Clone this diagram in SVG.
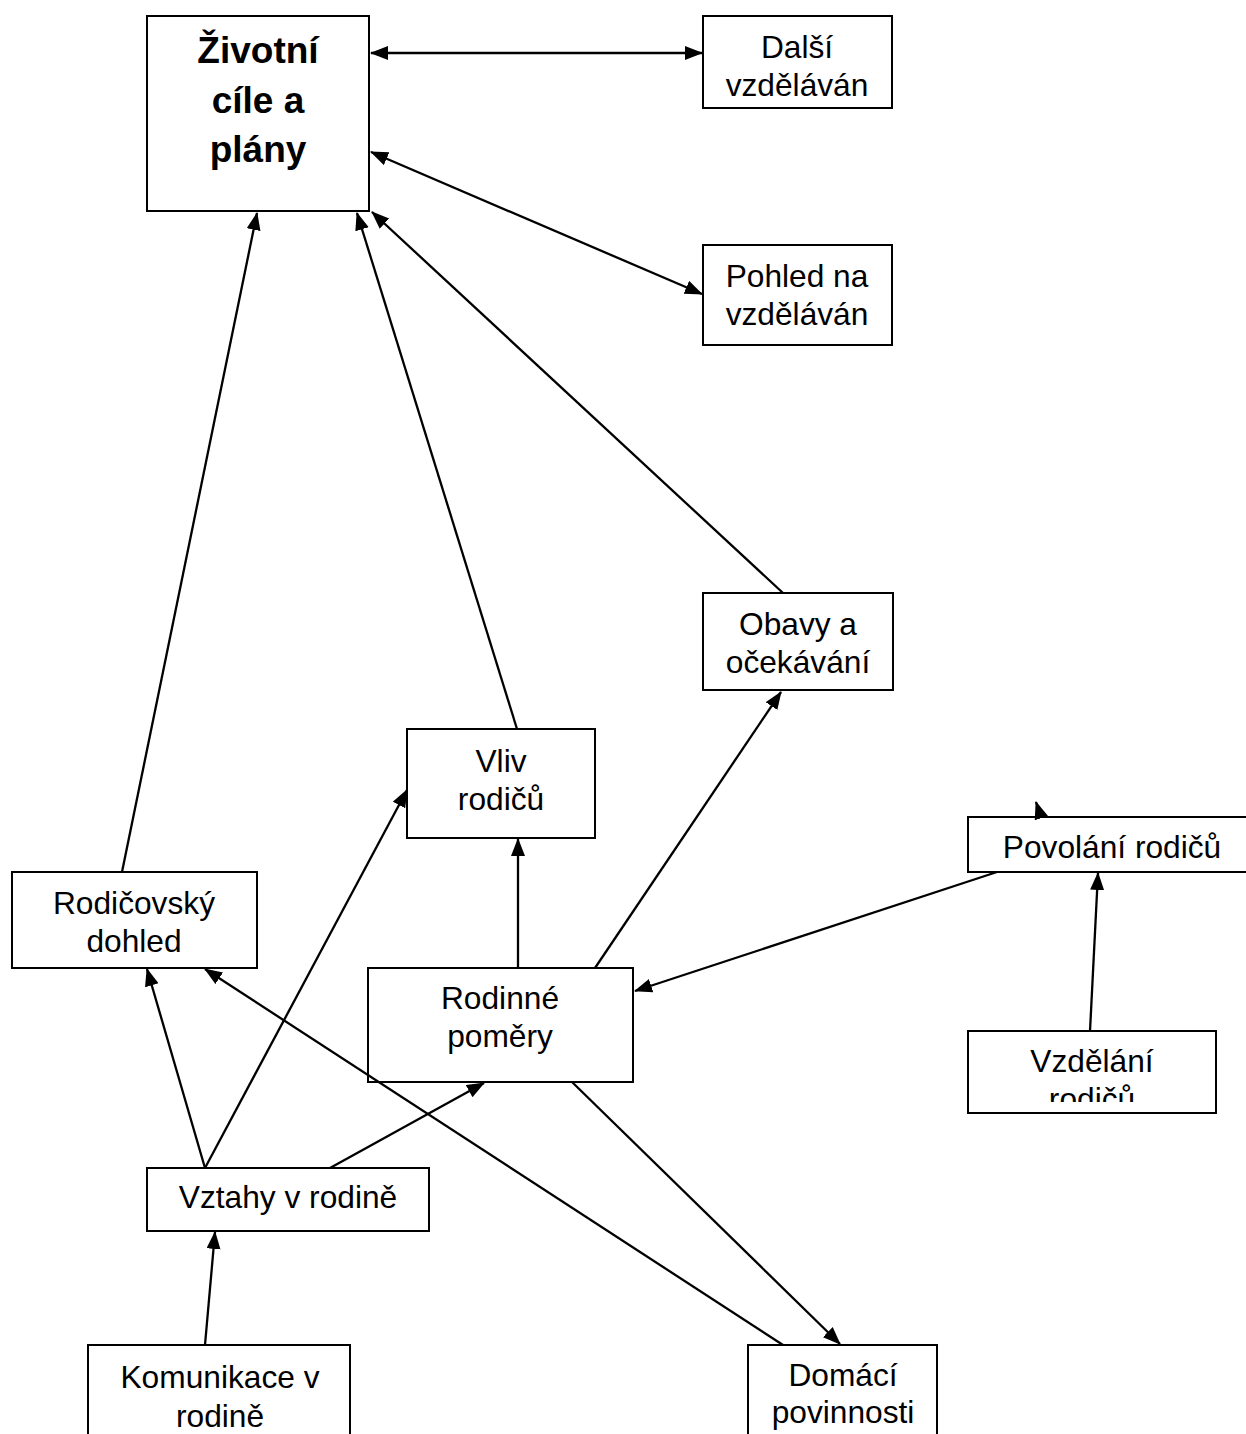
<svg xmlns="http://www.w3.org/2000/svg" width="1246" height="1434" viewBox="0 0 1246 1434">
<style>
.box{fill:#fff;stroke:#000;stroke-width:2}
.t{font-family:"Liberation Sans",Arial,sans-serif;font-size:31.7px;fill:#000;text-anchor:middle}
.b{font-family:"Liberation Sans",Arial,sans-serif;font-size:37px;font-weight:bold;fill:#000;text-anchor:middle}
.c{fill:none;stroke:#000;stroke-width:2.3}
</style>
<defs>
<marker id="ah" markerUnits="userSpaceOnUse" markerWidth="19" markerHeight="15" refX="17" refY="7" orient="auto-start-reverse" viewBox="0 0 19 15">
<path d="M0,0 L18,7 L0,14 z" fill="#000"/>
</marker>
<clipPath id="clipVz"><rect x="960" y="1025" width="270" height="77"/></clipPath>
</defs>
<rect width="1246" height="1434" fill="#fff"/>
<g id="zivotni"><rect class="box" x="147" y="16" width="222" height="195"/><text class="b" x="258" y="63">Životní</text><text class="b" x="258" y="113">cíle a</text><text class="b" x="258" y="162">plány</text></g>
<g id="dalsi"><rect class="box" x="703" y="16" width="189" height="92"/><text class="t" x="797" y="58">Další</text><text class="t" x="797" y="96">vzděláván</text></g>
<g id="pohled"><rect class="box" x="703" y="245" width="189" height="100"/><text class="t" x="797" y="287">Pohled na</text><text class="t" x="797" y="325">vzděláván</text></g>
<g id="obavy"><rect class="box" x="703" y="593" width="190" height="97"/><text class="t" x="798" y="635">Obavy a</text><text class="t" x="798" y="673">očekávání</text></g>
<g id="vliv"><rect class="box" x="407" y="729" width="188" height="109"/><text class="t" x="501" y="772">Vliv</text><text class="t" x="501" y="810">rodičů</text></g>
<g id="rodicovsky"><rect class="box" x="12" y="872" width="245" height="96"/><text class="t" x="134" y="914">Rodičovský</text><text class="t" x="134" y="952">dohled</text></g>
<g id="rodinne"><rect class="box" x="368" y="968" width="265" height="114"/><text class="t" x="500" y="1009">Rodinné</text><text class="t" x="500" y="1047">poměry</text></g>
<g id="povolani"><rect class="box" x="968" y="817" width="290" height="55"/><text class="t" x="1112" y="858">Povolání rodičů</text></g>
<g id="vzdelani"><rect class="box" x="968" y="1031" width="248" height="82"/><g clip-path="url(#clipVz)"><text class="t" x="1092" y="1072">Vzdělání</text><text class="t" x="1092" y="1110">rodičů</text></g></g>
<g id="vztahy"><rect class="box" x="147" y="1168" width="282" height="63"/><text class="t" x="288" y="1208">Vztahy v rodině</text></g>
<g id="komunikace"><rect class="box" x="88" y="1345" width="262" height="100"/><text class="t" x="220" y="1388">Komunikace v</text><text class="t" x="220" y="1427">rodině</text></g>
<g id="domaci"><rect class="box" x="748" y="1345" width="189" height="100"/><text class="t" x="843" y="1386">Domácí</text><text class="t" x="843" y="1423">povinnosti</text></g>
<g id="connectors">
<line class="c" x1="371" y1="53" x2="702" y2="53" marker-start="url(#ah)" marker-end="url(#ah)"/>
<line class="c" x1="371" y1="152" x2="702" y2="294" marker-start="url(#ah)" marker-end="url(#ah)"/>
<line class="c" x1="122" y1="872" x2="257" y2="213" marker-end="url(#ah)"/>
<line class="c" x1="517" y1="729" x2="357" y2="213" marker-end="url(#ah)"/>
<line class="c" x1="783" y1="593" x2="372" y2="212" marker-end="url(#ah)"/>
<line class="c" x1="518" y1="968" x2="518" y2="839" marker-end="url(#ah)"/>
<line class="c" x1="595" y1="968" x2="781" y2="692" marker-end="url(#ah)"/>
<line class="c" x1="997" y1="872" x2="635" y2="991" marker-end="url(#ah)"/>
<line class="c" x1="1090" y1="1031" x2="1098" y2="873" marker-end="url(#ah)"/>
<line class="c" x1="1041" y1="817" x2="1036" y2="802" marker-end="url(#ah)"/>
<line class="c" x1="205" y1="1168" x2="147" y2="969" marker-end="url(#ah)"/>
<line class="c" x1="205" y1="1168" x2="407" y2="790" marker-end="url(#ah)"/>
<line class="c" x1="330" y1="1168" x2="484" y2="1083" marker-end="url(#ah)"/>
<line class="c" x1="783" y1="1345" x2="205" y2="969" marker-end="url(#ah)"/>
<line class="c" x1="572" y1="1082" x2="840" y2="1344" marker-end="url(#ah)"/>
<line class="c" x1="205" y1="1345" x2="215" y2="1232" marker-end="url(#ah)"/>
</g>
</svg>
